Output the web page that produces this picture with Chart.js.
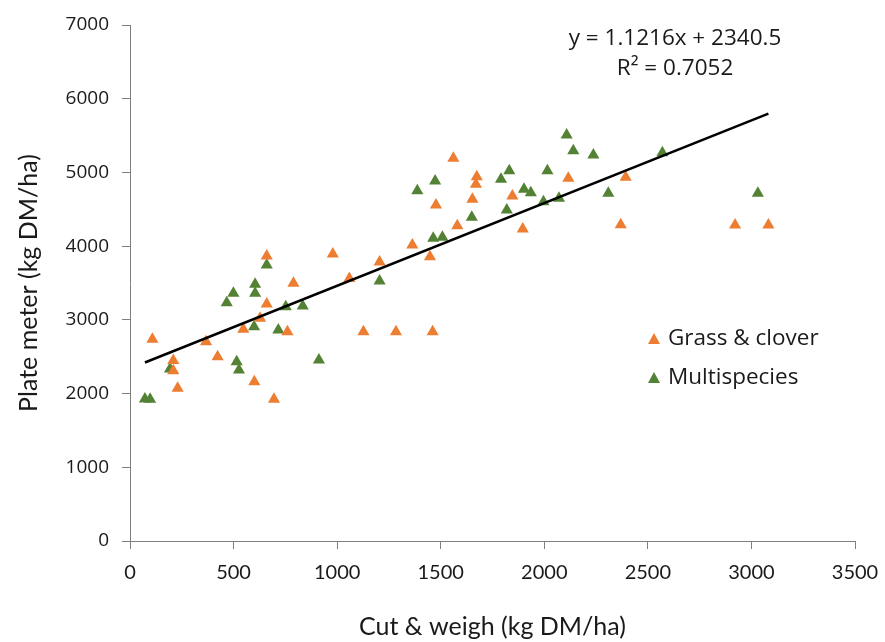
<!DOCTYPE html>
<html>
<head>
<meta charset="utf-8">
<script src="https://cdn.jsdelivr.net/npm/chart.js@4/dist/chart.umd.min.js"></script>
<style>
  html, body { margin: 0; padding: 0; background: #fff; }
  #wrap { width: 885px; height: 642px; position: relative; }
</style>
</head>
<body>
<div id="wrap"><canvas id="c" width="885" height="642"></canvas></div>
<script>
// ---- Data ----
const grassX = [108, 209, 209, 230, 367, 423, 547, 600, 628, 660, 660, 695, 760, 789, 979, 1059, 1127, 1205, 1284, 1363, 1448, 1461, 1477, 1561, 1580, 1653, 1670, 1674, 1846, 1896, 2116, 2369, 2393, 2921, 3082];
const grassY = [2736, 2450, 2310, 2071, 2704, 2500, 2872, 2161, 3021, 3215, 3866, 1922, 2840, 3496, 3893, 3560, 2840, 3785, 2840, 4015, 3857, 2840, 4558, 5192, 4278, 4636, 4839, 4942, 4680, 4233, 4920, 4290, 4934, 4287, 4287];

const multiX = [72, 97, 193, 467, 499, 515, 526, 599, 604, 604, 660, 716, 752, 834, 912, 1205, 1387, 1464, 1473, 1508, 1650, 1791, 1819, 1831, 1902, 1935, 1996, 2015, 2071, 2108, 2140, 2237, 2309, 2570, 3031];
const multiY = [1926, 1922, 2333, 3233, 3360, 2433, 2320, 2907, 3360, 3482, 3744, 2862, 3178, 3188, 2455, 3527, 4752, 4106, 4884, 4120, 4391, 4907, 4490, 5024, 4771, 4725, 4603, 5024, 4649, 5508, 5295, 5236, 4717, 5268, 4717];

const seriesNames = ['Grass & clover', 'Multispecies'];
const xTicks = [0, 500, 1000, 1500, 2000, 2500, 3000, 3500];
const yTicks = [0, 1000, 2000, 3000, 4000, 5000, 6000, 7000];
const slope = 1.1216;
const intercept = 2340.5;
const eqText = 'y = 1.1216x + 2340.5';
const r2Text = 'R\u00B2 = 0.7052';

const ORANGE = '#ED7D31';
const GREEN = '#548235';

const toPts = (xs, ys) => xs.map((x, i) => ({ x: x, y: ys[i] }));
const allX = grassX.concat(multiX);
const xmin = Math.min(...allX), xmax = Math.max(...allX);
const trend = [xmin, xmax].map(x => ({ x: x, y: slope * x + intercept }));

const overlay = {
  id: 'overlay',
  afterDraw(chart) {
    const ctx = chart.ctx;
    ctx.save();
    ctx.fillStyle = '#1a1a1a';
    ctx.font = '22.5px "Open Sans"';
    ctx.textAlign = 'center';
    ctx.textBaseline = 'middle';
    ctx.fillText(eqText, 675, 39);
    ctx.fillText(r2Text, 675, 69);
    // legend
    const items = [[ORANGE, 339], [GREEN, 378]];
    ctx.textAlign = 'left';
    ctx.font = '22.5px "Open Sans"';
    items.forEach((it, i) => {
      const cx = 654, cy = it[1];
      ctx.fillStyle = it[0];
      ctx.beginPath();
      ctx.moveTo(cx, cy - 6);
      ctx.lineTo(cx + 6, cy + 5);
      ctx.lineTo(cx - 6, cy + 5);
      ctx.closePath();
      ctx.fill();
      ctx.fillStyle = '#1a1a1a';
      ctx.fillText(seriesNames[i], 668, cy);
    });
    ctx.restore();
  }
};

new Chart(document.getElementById('c'), {
  type: 'scatter',
  data: {
    datasets: [
      { label: seriesNames[0], data: toPts(grassX, grassY), pointStyle: 'triangle', pointRadius: 7, backgroundColor: ORANGE, borderColor: ORANGE, borderWidth: 0, order: 2 },
      { label: seriesNames[1], data: toPts(multiX, multiY), pointStyle: 'triangle', pointRadius: 7, backgroundColor: GREEN, borderColor: GREEN, borderWidth: 0, order: 2 },
      { label: 'Linear', type: 'line', data: trend, borderColor: '#000', borderWidth: 2.5, pointRadius: 0, fill: false, order: 1 }
    ]
  },
  options: {
    responsive: false,
    animation: false,
    layout: { padding: { top: 25, right: 30, left: 0, bottom: 0 } },
    plugins: { legend: { display: false }, tooltip: { enabled: false } },
    scales: {
      x: {
        type: 'linear', min: 0, max: 3500,
        afterBuildTicks: s => { s.ticks = xTicks.map(v => ({ value: v })); },
        afterFit: s => { s.height = 101; s.paddingRight = 0; s.paddingLeft = 0; },
        grid: { drawOnChartArea: false, tickLength: 8, color: '#7f7f7f' },
        border: { color: '#7f7f7f', width: 1 },
        ticks: { padding: 12, color: '#1a1a1a', font: { family: 'Lato', size: 20 }, maxRotation: 0, callback: v => String(v) },
        title: { display: true, text: 'Cut & weigh (kg DM/ha)', color: '#1a1a1a', font: { family: 'Lato', size: 25 }, padding: { top: 0, bottom: 0 } }
      },
      y: {
        type: 'linear', min: 0, max: 7000,
        afterBuildTicks: s => { s.ticks = yTicks.map(v => ({ value: v })); },
        afterFit: s => { s.width = 130; s.paddingTop = 0; s.paddingBottom = 0; },
        grid: { drawOnChartArea: false, tickLength: 8, color: '#7f7f7f' },
        border: { color: '#7f7f7f', width: 1 },
        ticks: { padding: 13, color: '#1a1a1a', font: { family: 'Open Sans', size: 19 }, callback: v => String(v) },
        title: { display: true, text: 'Plate meter (kg DM/ha)', color: '#1a1a1a', font: { family: 'Lato', size: 25 }, padding: { top: 14, bottom: 0 } }
      }
    }
  },
  plugins: [overlay]
});
</script>
</body>
</html>
